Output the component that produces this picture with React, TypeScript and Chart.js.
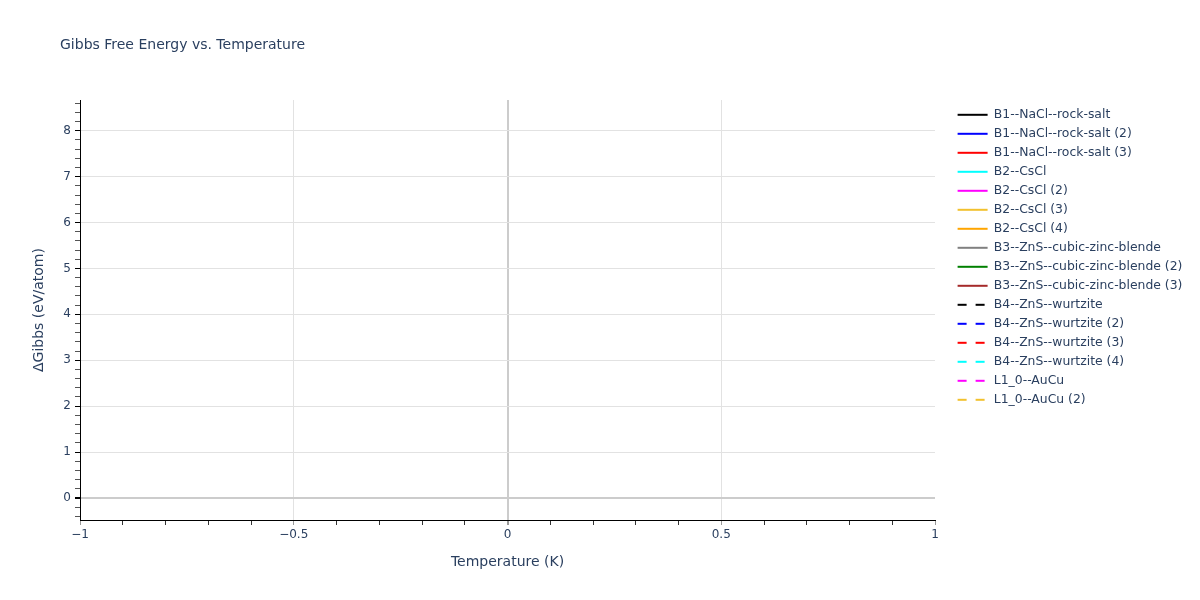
import React, { useEffect, useRef } from 'react';
import Chart from 'chart.js/auto';

// --- Datos del gráfico ---

const chartTitle = 'Gibbs Free Energy vs. Temperature';
const xTitle = 'Temperature (K)';
const yTitle = 'ΔGibbs (eV/atom)';

const seriesNames = [
  'B1--NaCl--rock-salt',
  'B1--NaCl--rock-salt (2)',
  'B1--NaCl--rock-salt (3)',
  'B2--CsCl',
  'B2--CsCl (2)',
  'B2--CsCl (3)',
  'B2--CsCl (4)',
  'B3--ZnS--cubic-zinc-blende',
  'B3--ZnS--cubic-zinc-blende (2)',
  'B3--ZnS--cubic-zinc-blende (3)',
  'B4--ZnS--wurtzite',
  'B4--ZnS--wurtzite (2)',
  'B4--ZnS--wurtzite (3)',
  'B4--ZnS--wurtzite (4)',
  'L1_0--AuCu',
  'L1_0--AuCu (2)',
];

const seriesColors = [
  '#000000', '#0000ff', '#ff0000', '#00ffff', '#ff00ff', '#f2c12e', '#ffa500',
  '#808080', '#008000', '#a52a2a',
  '#000000', '#0000ff', '#ff0000', '#00ffff', '#ff00ff', '#f2c12e',
];

const seriesDashed = [
  false, false, false, false, false, false, false, false, false, false,
  true, true, true, true, true, true,
];

// No hay puntos visibles en el rango mostrado
const seriesData: { x: number; y: number }[][] = seriesNames.map(() => []);

const xRange = [-1, 1];
const yRange = [-0.48, 8.67];
const xMajorTicks = [-1, -0.5, 0, 0.5, 1];
const xTickLabels = ['−1', '−0.5', '0', '0.5', '1'];
const yMajorTicks = [0, 1, 2, 3, 4, 5, 6, 7, 8];
const xMinorStep = 0.1;
const yMinorStep = 0.2;

// --- Helpers ---

const FONT = "'DejaVu Sans', Verdana, sans-serif";
const TEXT = '#2a3f5f';
const DASH = [9, 9];

const stepTicks = (min: number, max: number, step: number) => {
  const out: number[] = [];
  const start = Math.ceil(min / step - 1e-9);
  for (let i = start; i * step <= max + 1e-9; i++) out.push(Math.round(i * step * 100) / 100);
  return out;
};

const isMajor = (v: number, majors: number[]) => majors.some(m => Math.abs(m - v) < 1e-9);

const titlePlugin = {
  id: 'plotTitle',
  afterDraw(chart: Chart) {
    const c = chart.ctx;
    c.save();
    c.font = `14px ${FONT}`;
    c.fillStyle = TEXT;
    c.textBaseline = 'middle';
    c.textAlign = 'left';
    c.fillText(chartTitle, 60, 45);
    c.restore();
  },
};

// Desplaza la leyenda para dejar hueco entre el área y las muestras
const legendShift = {
  id: 'legendShift',
  afterLayout(chart: any) {
    const lg = chart.legend;
    if (!lg) return;
    lg.left += 16;
    lg.right = chart.width;
    lg.width = lg.right - lg.left;
    lg.top += 2;
    lg.bottom += 2;
  },
};

export default function App() {
  const canvasRef = useRef<HTMLCanvasElement>(null);

  useEffect(() => {
    const ctx = canvasRef.current?.getContext('2d');
    if (!ctx) return;

    const xTicks = stepTicks(xRange[0], xRange[1], xMinorStep);
    const yTicks = stepTicks(yRange[0], yRange[1], yMinorStep);
    const baseLabels = Chart.defaults.plugins.legend.labels.generateLabels;

    const chart = new Chart(ctx, {
      type: 'line',
      data: {
        datasets: seriesNames.map((name, i) => ({
          label: name,
          data: seriesData[i],
          borderColor: seriesColors[i],
          backgroundColor: seriesColors[i],
          borderWidth: 2,
          borderDash: seriesDashed[i] ? DASH : [],
          pointRadius: 0,
          fill: false,
        })),
      },
      options: {
        animation: false,
        responsive: true,
        maintainAspectRatio: false,
        layout: { padding: { top: 100, left: 0, bottom: 0, right: 65 } },
        plugins: {
          title: { display: false },
          tooltip: { enabled: false },
          legend: {
            position: 'right',
            align: 'start',
            fullSize: false,
            maxWidth: 200,
            labels: {
              usePointStyle: true,
              pointStyle: 'line',
              pointStyleWidth: 30,
              boxHeight: 12,
              padding: 6.6,
              color: TEXT,
              font: { family: FONT, size: 12.4 },
              generateLabels: (c: any) =>
                baseLabels(c).map((item: any, i: number) => ({
                  ...item,
                  pointStyle: 'line',
                  lineWidth: 2,
                  strokeStyle: seriesColors[i],
                  fillStyle: seriesColors[i],
                  lineDash: seriesDashed[i] ? DASH : [],
                })),
            },
          },
        },
        scales: {
          x: {
            type: 'linear',
            min: xRange[0],
            max: xRange[1],
            afterBuildTicks: (s: any) => { s.ticks = xTicks.map(v => ({ value: v })); },
            afterFit: (s: any) => { s.height = 80; },
            ticks: {
              autoSkip: false,
              maxRotation: 0,
              padding: 3,
              color: TEXT,
              font: { family: FONT, size: 12 },
              callback: (v: any) => {
                const idx = xMajorTicks.findIndex(m => Math.abs(m - v) < 1e-9);
                return idx >= 0 ? xTickLabels[idx] : '';
              },
            },
            grid: {
              tickLength: 5,
              color: (c: any) => {
                const v = c.tick?.value ?? 0;
                if (Math.abs(v) < 1e-9) return '#cccccc';
                if (Math.abs(Math.abs(v) - 1) < 1e-9) return 'rgba(0,0,0,0)';
                return isMajor(v, xMajorTicks) ? '#e2e2e2' : 'rgba(0,0,0,0)';
              },
              lineWidth: (c: any) => (Math.abs(c.tick?.value ?? 1) < 1e-9 ? 2 : 1),
              tickColor: (c: any) => (isMajor(c.tick?.value ?? 0, xMajorTicks) ? '#999999' : '#333333'),
            },
            border: { display: true, color: '#000000', width: 1 },
            title: {
              display: true,
              text: xTitle,
              color: TEXT,
              font: { family: FONT, size: 14 },
              padding: { top: 0, bottom: 29 },
            },
          },
          y: {
            type: 'linear',
            min: yRange[0],
            max: yRange[1],
            afterBuildTicks: (s: any) => { s.ticks = yTicks.map(v => ({ value: v })); },
            afterFit: (s: any) => { s.width = 80; },
            ticks: {
              autoSkip: false,
              padding: 4,
              color: TEXT,
              font: { family: FONT, size: 12 },
              callback: (v: any) => (isMajor(v, yMajorTicks) ? String(Math.round(v)) : ''),
            },
            grid: {
              tickLength: 5,
              color: (c: any) => {
                const v = c.tick?.value ?? 0.5;
                if (Math.abs(v) < 1e-9) return '#cccccc';
                return isMajor(v, yMajorTicks) ? '#e2e2e2' : 'rgba(0,0,0,0)';
              },
              lineWidth: (c: any) => (Math.abs(c.tick?.value ?? 1) < 1e-9 ? 2 : 1),
              tickColor: (c: any) => (isMajor(c.tick?.value ?? 0.5, yMajorTicks) ? '#000000' : '#555555'),
            },
            border: { display: true, color: '#000000', width: 1 },
            title: {
              display: true,
              text: yTitle,
              color: TEXT,
              font: { family: FONT, size: 14 },
              padding: { top: 31, bottom: 0 },
            },
          },
        },
      },
      plugins: [titlePlugin, legendShift],
    });

    return () => chart.destroy();
  }, []);

  return (
    <div style={{ position: 'fixed', left: 0, top: 0, width: 1200, height: 600, background: '#fff' }}>
      <canvas ref={canvasRef}></canvas>
    </div>
  );
}
